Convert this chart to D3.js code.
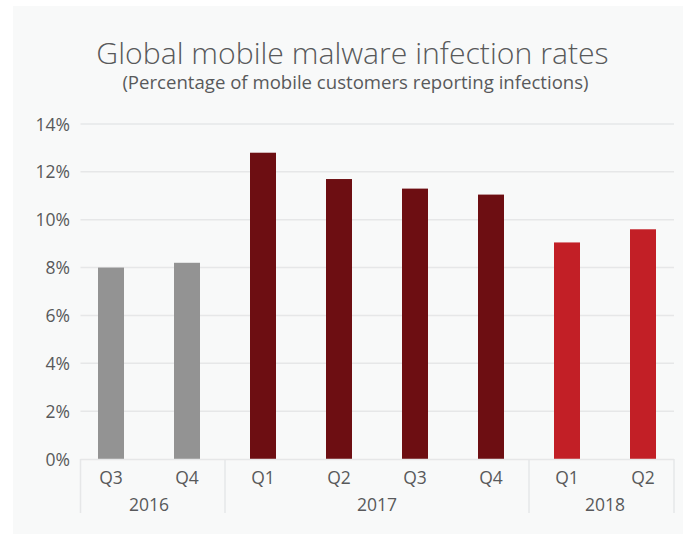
<!DOCTYPE html>
<html>
<head>
<meta charset="utf-8">
<script src="https://cdn.jsdelivr.net/npm/d3@7"></script>
<style>
  html, body { margin: 0; padding: 0; background: #ffffff; }
  svg { display: block; }
  text { font-family: "Open Sans", sans-serif; fill: #58595b; }
</style>
</head>
<body>
<svg id="chart" width="683" height="534"></svg>
<script>
// Quarterly infection rates (%)
const quarters = ["Q3", "Q4", "Q1", "Q2", "Q3", "Q4", "Q1", "Q2"];
const years = ["2016", "2016", "2017", "2017", "2017", "2017", "2018", "2018"];
const rates = [8.0, 8.2, 12.8, 11.7, 11.3, 11.05, 9.05, 9.6];
const yearGroups = ["2016", "2017", "2018"];
const yearColors = ["#939393", "#6d0e12", "#c21f26"];
const yTicks = [0, 2, 4, 6, 8, 10, 12, 14];

const svg = d3.select("#chart");

// Panel background
svg.append("rect")
  .attr("x", 13).attr("y", 6)
  .attr("width", 670).attr("height", 528)
  .attr("fill", "#f8f9f9");

// Titles
svg.append("text")
  .attr("x", 352.5).attr("y", 64)
  .attr("text-anchor", "middle")
  .style("font-size", "30.2px")
  .style("font-weight", 300)
  .text("Global mobile malware infection rates");
svg.append("text")
  .attr("x", 355.5).attr("y", 88.5)
  .attr("text-anchor", "middle")
  .style("font-size", "18.6px")
  .text("(Percentage of mobile customers reporting infections)");

const plotLeft = 80.5, plotRight = 674, plotTop = 124, plotBottom = 459;

const idx = d3.range(rates.length);
const x = d3.scaleBand()
  .domain(idx)
  .range([73, 681])
  .paddingInner(0.658)
  .paddingOuter(0.329);

const y = d3.scaleLinear().domain([0, 14]).range([plotBottom, plotTop]);
const color = d3.scaleOrdinal().domain(yearGroups).range(yearColors);

// Gridlines
svg.append("g")
  .selectAll("line")
  .data(yTicks.slice(1))
  .join("line")
  .attr("x1", plotLeft).attr("x2", plotRight)
  .attr("y1", d => y(d)).attr("y2", d => y(d))
  .attr("stroke", "#e6e7e8")
  .attr("stroke-width", 1.5);

// Y axis labels
const yAxis = d3.axisLeft(y)
  .tickValues(yTicks)
  .tickFormat(d => d + "%")
  .tickSize(0)
  .tickPadding(0);
const gy = svg.append("g")
  .attr("transform", `translate(70,0)`)
  .call(yAxis);
gy.select(".domain").remove();
gy.selectAll("text")
  .style("font-family", "'Open Sans', sans-serif")
  .style("font-size", "17.5px")
  .attr("fill", "#58595b")
  .attr("dy", "0.35em");

// Bars
svg.append("g")
  .selectAll("rect")
  .data(idx)
  .join("rect")
  .attr("x", i => x(i))
  .attr("width", x.bandwidth())
  .attr("y", i => y(rates[i]))
  .attr("height", i => y(0) - y(rates[i]))
  .attr("fill", i => color(years[i]));

// Category axis frame
const frame = svg.append("g")
  .attr("stroke", "#e6e7e8")
  .attr("stroke-width", 1.5)
  .attr("fill", "none");
frame.append("line")
  .attr("x1", plotLeft).attr("x2", plotRight)
  .attr("y1", y(0) + 0.5).attr("y2", y(0) + 0.5);

// Boundaries between year groups, plus outer edges
const mid = i => x(i) + x.bandwidth() / 2;
const seps = [plotLeft];
for (let i = 1; i < idx.length; i++) {
  if (years[i] !== years[i - 1]) seps.push((mid(i - 1) + mid(i)) / 2);
}
seps.push(plotRight);
frame.selectAll("line.sep")
  .data(seps)
  .join("line")
  .attr("class", "sep")
  .attr("x1", d => d).attr("x2", d => d)
  .attr("y1", y(0)).attr("y2", 513);

// Quarter labels
svg.append("g")
  .selectAll("text")
  .data(idx)
  .join("text")
  .attr("x", i => mid(i))
  .attr("y", 484)
  .attr("text-anchor", "middle")
  .style("font-size", "17.5px")
  .text(i => quarters[i]);

// Year labels centred under each group
svg.append("g")
  .selectAll("text")
  .data(yearGroups)
  .join("text")
  .attr("x", g => {
    const members = idx.filter(i => years[i] === g);
    return (mid(members[0]) + mid(members[members.length - 1])) / 2;
  })
  .attr("y", 511)
  .attr("text-anchor", "middle")
  .style("font-size", "17.5px")
  .text(g => g);
</script>
</body>
</html>
